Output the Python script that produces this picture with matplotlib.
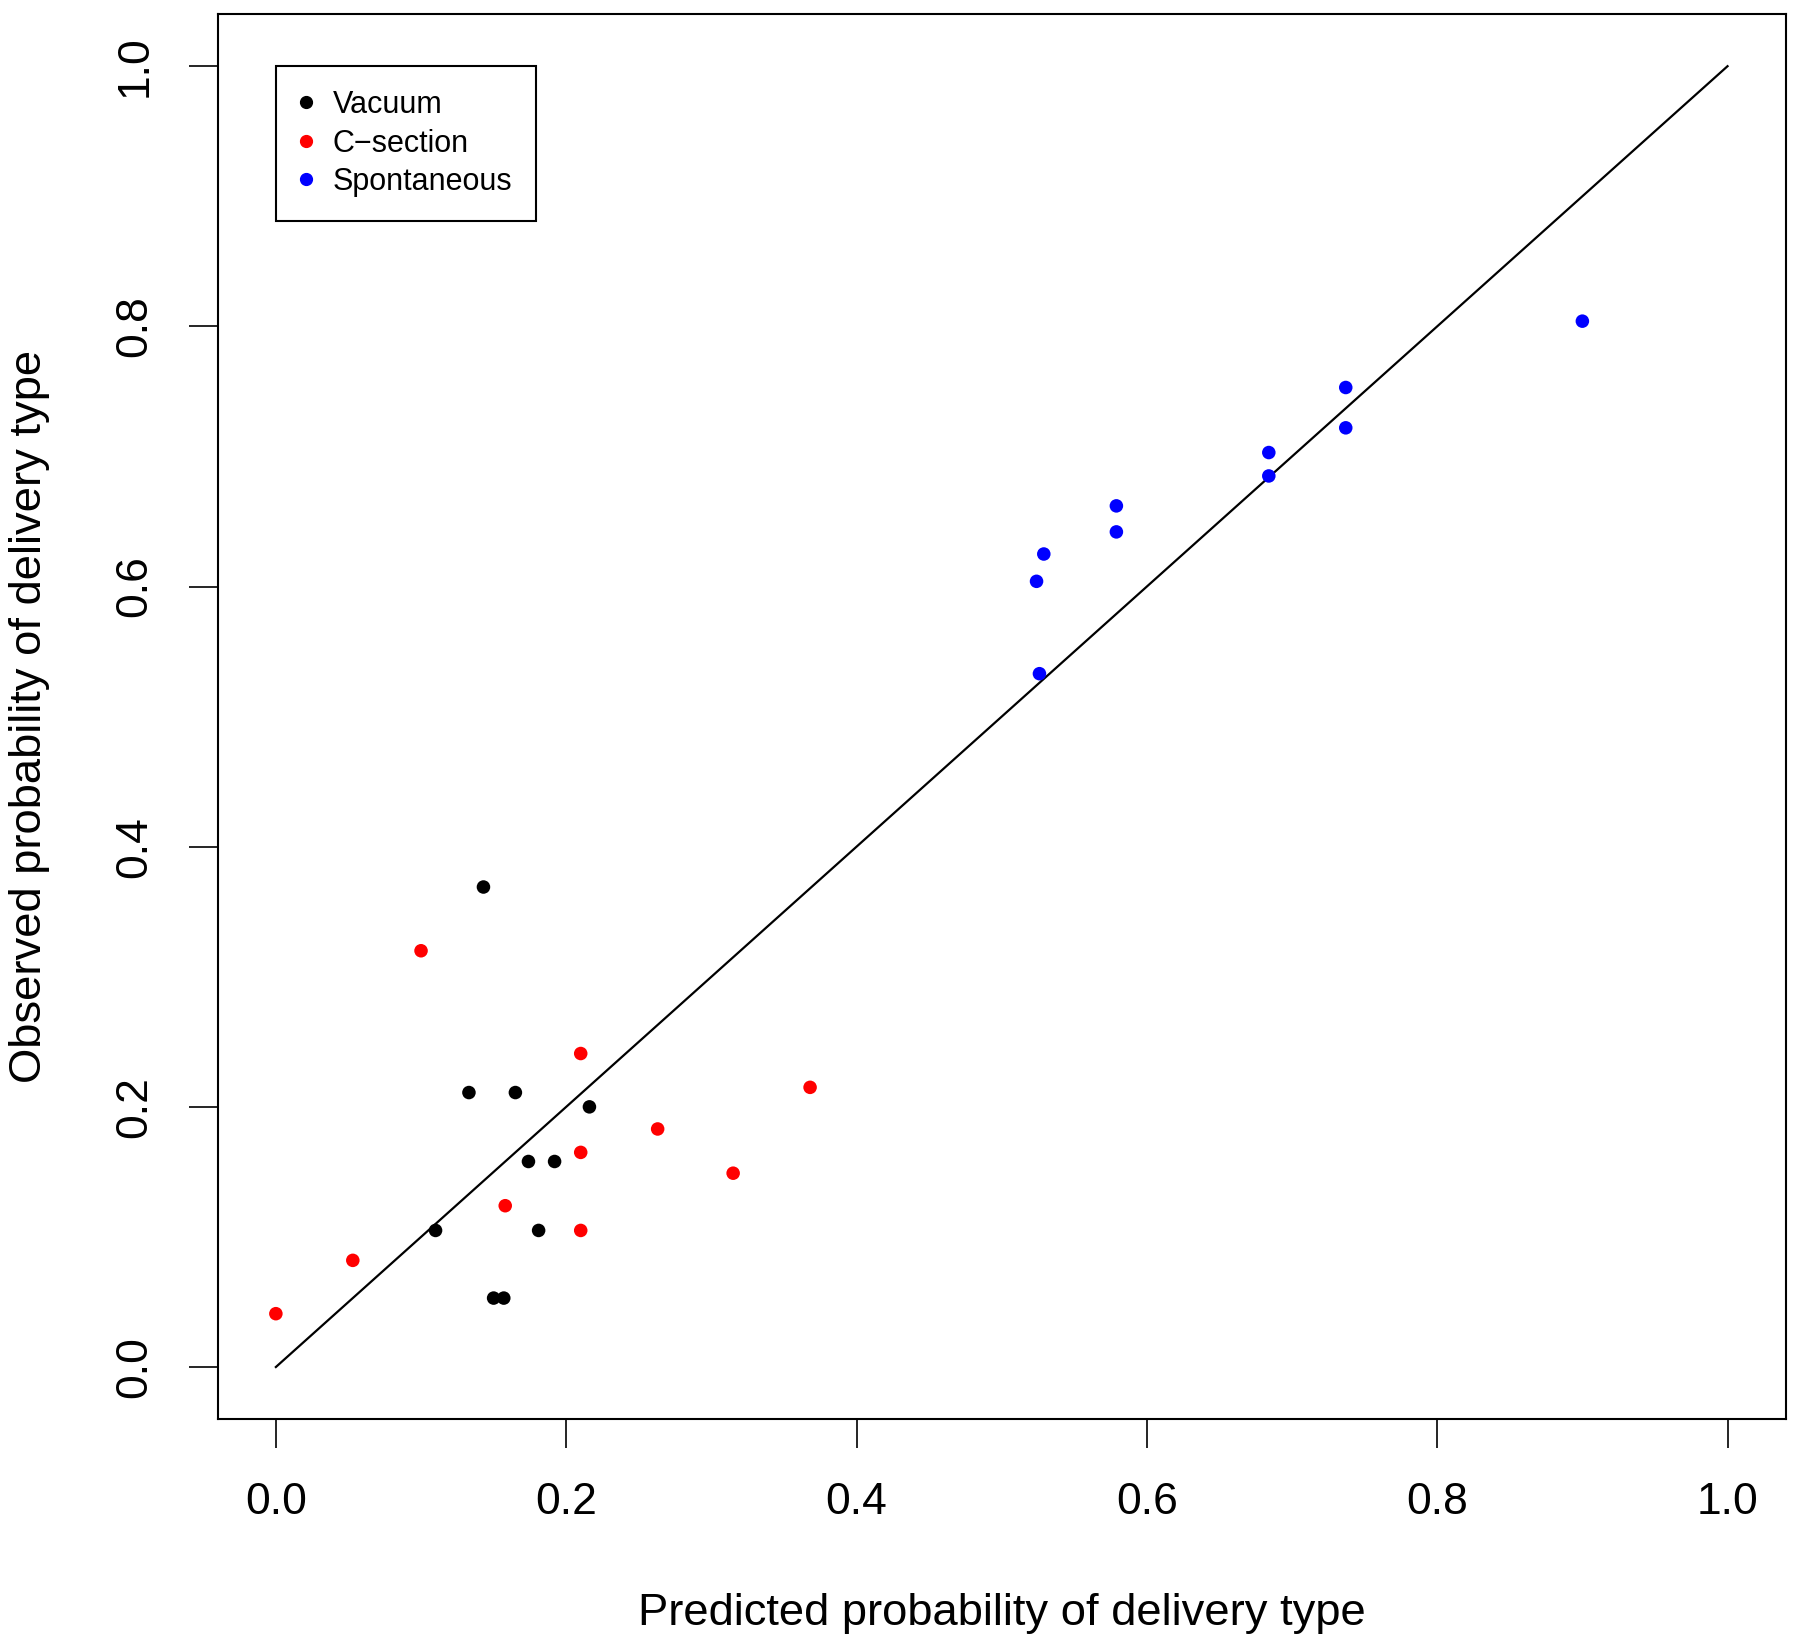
import matplotlib
matplotlib.use("Agg")
import matplotlib.pyplot as plt
from matplotlib.lines import Line2D

plt.rcParams['font.family'] = ['Liberation Sans', 'DejaVu Sans']

# data
vac_x = [0.143, 0.133, 0.165, 0.216, 0.174, 0.192, 0.110, 0.181, 0.150, 0.157]
vac_y = [0.369, 0.211, 0.211, 0.200, 0.158, 0.158, 0.105, 0.105, 0.053, 0.053]

cs_x = [0.000, 0.053, 0.100, 0.158, 0.210, 0.210, 0.210, 0.263, 0.315, 0.368]
cs_y = [0.041, 0.082, 0.320, 0.124, 0.241, 0.165, 0.105, 0.183, 0.149, 0.215]

sp_x = [0.524, 0.529, 0.526, 0.579, 0.579, 0.684, 0.684, 0.737, 0.737, 0.900]
sp_y = [0.604, 0.625, 0.533, 0.662, 0.642, 0.703, 0.685, 0.753, 0.722, 0.804]

labels = ['Vacuum', 'C\u2212section', 'Spontaneous']
colors = ['black', 'red', 'blue']
ticks = [0.0, 0.2, 0.4, 0.6, 0.8, 1.0]

fig = plt.figure(figsize=(18, 16.47), dpi=100)
ax = fig.add_axes([0.121, 0.1384, 0.871, 0.853])

ax.plot([0, 1], [0, 1], color='black', lw=1.6)
for xs, ys, c in zip([vac_x, cs_x, sp_x], [vac_y, cs_y, sp_y], colors):
    ax.scatter(xs, ys, s=95, color=c, edgecolors='none', zorder=3)

ax.set_xlim(-0.04, 1.04)
ax.set_ylim(-0.04, 1.04)
ax.set_xticks(ticks)
ax.set_yticks(ticks)
ax.set_xticklabels([f'{t:.1f}' for t in ticks])
ax.set_yticklabels([f'{t:.1f}' for t in ticks], rotation=90, va='center')
ax.tick_params(axis='both', labelsize=32, length=21, width=1.2, pad=24)

for sp in ax.spines.values():
    sp.set_linewidth(1.5)

ax.set_xlabel('Predicted probability of delivery type', fontsize=32.7, labelpad=51)
ax.set_ylabel('Observed probability of delivery type', fontsize=32.7, labelpad=46)

handles = [Line2D([], [], marker='o', ls='none', color=c, markersize=8.5) for c in colors]
leg = ax.legend(handles, labels, loc='upper left', bbox_to_anchor=(0, 1),
                bbox_transform=ax.transData, fontsize=22, fancybox=False,
                framealpha=1, edgecolor='black', borderpad=0.78,
                labelspacing=0.28, handlelength=0.4, handletextpad=0.68,
                borderaxespad=0)
leg.get_frame().set_linewidth(1.5)

fig.savefig('out.png', dpi=100)
